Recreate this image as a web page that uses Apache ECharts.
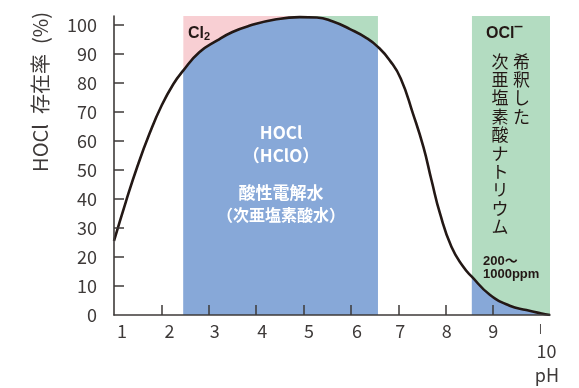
<!DOCTYPE html>
<html>
<head>
<meta charset="utf-8">
<script src="https://cdn.jsdelivr.net/npm/echarts@6/dist/echarts.min.js"></script>
<style>html,body{margin:0;padding:0;background:#fff}#c{width:579px;height:388px}</style>
</head>
<body>
<div id="c"></div>
<script>
// ---- data ----
var phValues = [1.0, 1.25, 1.5, 1.75, 2.0, 2.25, 2.46, 2.8, 3.17, 3.5, 3.87, 4.4, 4.92, 5.28, 5.62, 5.98, 6.33, 6.58, 6.82, 7.05, 7.31, 7.53, 7.70, 7.88, 8.12, 8.37, 8.55, 8.93, 9.35, 9.70, 10.0, 10.2];
var hoclPercent = [25.5, 39.0, 51.5, 62.5, 72.0, 79.5, 84.2, 90.5, 94.5, 97.5, 99.7, 101.8, 102.6, 102.5, 101.1, 98.5, 95.4, 92.2, 87.7, 81.5, 69.3, 57.8, 46.4, 34.9, 23.5, 16.6, 13.2, 7.0, 3.2, 1.7, 0.6, 0];
var xTickValues = [2, 3, 4, 5, 6, 7, 8, 9];
var xLabelValues = [1, 2, 3, 4, 5, 6, 7, 8, 9, 10];
var yTickValues = [10, 20, 30, 40, 50, 60, 70, 80, 90, 100];
var yLabelValues = [0, 10, 20, 30, 40, 50, 60, 70, 80, 90, 100];
// zone boundaries (pH): Cl2 start, Cl2/OCl- top split, HOCl end, OCl- start, axis end
var zoneBreaks = [2.46, 4.92, 6.57, 8.55, 10.2];
var yMax = 103;

var curve = phValues.map(function (p, i) { return [p, hoclPercent[i]]; });

var axisColor = '#3e3a39';
var lineColor = '#231815';
var pink = '#f8cfd3', green = '#b3dcc1', blue = '#87a8d8';
var cjk = '"Noto Sans CJK JP", "Noto Sans", sans-serif';
var latin = '"Liberation Sans", Arial, "Noto Sans CJK JP", sans-serif';

var labelShift = {1: 16, 2: 16, 3: 12, 4: 12, 5: 11, 6: 12, 7: 4, 8: 2, 9: 0};

var chart = echarts.init(document.getElementById('c'), null, {renderer: 'canvas'});
chart.setOption({
  animation: false,
  grid: {left: 114, right: 29, top: 16, bottom: 73, containLabel: false, outerBoundsMode: 'none'},
  xAxis: {
    type: 'value', min: 1, max: zoneBreaks[4], interval: 1, z: 10,
    axisLine: {lineStyle: {color: axisColor, width: 1.6}},
    axisTick: {show: true, inside: true, length: 10, customValues: xTickValues, lineStyle: {color: axisColor, width: 1.5}},
    splitLine: {show: false},
    axisLabel: {
      customValues: xLabelValues, margin: 7, color: axisColor, fontSize: 18, fontFamily: cjk,
      formatter: function (v) {
        if (v === 10) return '{bar||}\n{ten|10}';
        return '{s' + v + '|' + v + '}';
      },
      rich: (function () {
        var r = {
          bar: {fontSize: 11, lineHeight: 14, color: axisColor, fontFamily: latin},
          ten: {fontSize: 18, lineHeight: 30, color: axisColor, fontFamily: cjk, padding: [0, 0, 0, 12]}
        };
        for (var k = 1; k <= 9; k++) {
          r['s' + k] = {fontSize: 18, color: axisColor, fontFamily: cjk, padding: [0, 0, 0, labelShift[k]]};
        }
        return r;
      })()
    },
    name: 'pH', nameLocation: 'end', nameGap: -3,
    nameTextStyle: {color: axisColor, fontSize: 18, fontFamily: cjk, align: 'center', verticalAlign: 'top', padding: [51, 0, 0, 0]}
  },
  yAxis: {
    type: 'value', min: 0, max: yMax, interval: 10, z: 10,
    axisLine: {show: true, lineStyle: {color: axisColor, width: 1.6}},
    axisTick: {show: true, inside: true, length: 10, customValues: yTickValues, lineStyle: {color: axisColor, width: 1.5}},
    splitLine: {show: false},
    axisLabel: {customValues: yLabelValues, margin: 17, color: axisColor, fontSize: 18, fontFamily: cjk}
  },
  series: [
    {
      type: 'line', data: curve, z: 1, symbol: 'none', lineStyle: {opacity: 0}, silent: true,
      markArea: {
        silent: true, z: 1,
        data: [
          [{xAxis: zoneBreaks[0], yAxis: 0, itemStyle: {color: pink}}, {xAxis: zoneBreaks[1], yAxis: yMax}],
          [{xAxis: zoneBreaks[1], yAxis: 0, itemStyle: {color: green}}, {xAxis: zoneBreaks[2], yAxis: yMax}],
          [{xAxis: zoneBreaks[3], yAxis: 0, itemStyle: {color: green}}, {xAxis: zoneBreaks[4], yAxis: yMax}]
        ]
      }
    },
    {
      type: 'line', data: curve, z: 2, symbol: 'none', smooth: 0.5,
      lineStyle: {opacity: 0}, areaStyle: {color: blue, opacity: 1}, silent: true
    },
    {
      type: 'line', data: curve, z: 3, symbol: 'none', lineStyle: {opacity: 0}, silent: true,
      markArea: {
        silent: true, z: 3,
        itemStyle: {color: '#ffffff', opacity: 1},
        data: [
          [{xAxis: 1, yAxis: 0}, {xAxis: zoneBreaks[0], yAxis: yMax}],
          [{xAxis: zoneBreaks[2], yAxis: 0}, {xAxis: zoneBreaks[3], yAxis: yMax}]
        ]
      }
    },
    {
      type: 'line', data: curve, z: 4, symbol: 'none', smooth: 0.5,
      lineStyle: {color: lineColor, width: 2.6}, silent: true
    }
  ],
  graphic: [
    {type: 'text', x: 40, y: 92, rotation: Math.PI / 2, z: 20,
      style: {text: 'HOCl\u2002存在率\u2002(%)', fill: axisColor, font: '20px ' + cjk, textAlign: 'center', textVerticalAlign: 'middle'}},
    {type: 'text', x: 188, y: 33, z: 20,
      style: {text: '{a|Cl}{b|2}', textVerticalAlign: 'middle', rich: {
        a: {fontSize: 16, fontWeight: 'bold', fontFamily: latin, fill: lineColor, lineHeight: 18, verticalAlign: 'bottom'},
        b: {fontSize: 11, fontWeight: 'bold', fontFamily: latin, fill: lineColor, lineHeight: 18, verticalAlign: 'bottom'}}}},
    {type: 'text', x: 486, y: 33, z: 20,
      style: {text: '{a|OCl}{b|‾}', textVerticalAlign: 'middle', rich: {
        a: {fontSize: 16, fontWeight: 'bold', fontFamily: latin, fill: lineColor, lineHeight: 18, verticalAlign: 'bottom'},
        b: {fontSize: 16, fontWeight: 'bold', fontFamily: '"DejaVu Sans", sans-serif', fill: lineColor, lineHeight: 18, verticalAlign: 'bottom'}}}},
    {type: 'text', x: 521.5, y: 52, z: 20,
      style: {text: '希\n釈\nし\nた', fill: lineColor, font: '17px ' + cjk, textAlign: 'center', textVerticalAlign: 'top', lineHeight: 18.4}},
    {type: 'text', x: 500, y: 52, z: 20,
      style: {text: '次\n亜\n塩\n素\n酸\nナ\nト\nリ\nウ\nム', fill: lineColor, font: '17px ' + cjk, textAlign: 'center', textVerticalAlign: 'top', lineHeight: 18.4}},
    {type: 'text', x: 483, y: 268, z: 20,
      style: {text: '200～\n1000ppm', fill: lineColor, font: 'bold 13px ' + latin, textAlign: 'left', textVerticalAlign: 'middle', lineHeight: 13.5}},
    {type: 'text', x: 281, y: 133, z: 20,
      style: {text: 'HOCl', fill: '#fff', font: 'bold 17px ' + cjk, textAlign: 'center', textVerticalAlign: 'middle'}},
    {type: 'text', x: 281, y: 156, z: 20,
      style: {text: '（HClO）', fill: '#fff', font: 'bold 17px ' + cjk, textAlign: 'center', textVerticalAlign: 'middle'}},
    {type: 'text', x: 281, y: 193, z: 20,
      style: {text: '酸性電解水', fill: '#fff', font: 'bold 17px ' + cjk, textAlign: 'center', textVerticalAlign: 'middle'}},
    {type: 'text', x: 281, y: 215, z: 20,
      style: {text: '（次亜塩素酸水）', fill: '#fff', font: 'bold 16px ' + cjk, textAlign: 'center', textVerticalAlign: 'middle'}}
  ]
});
</script>
</body>
</html>
